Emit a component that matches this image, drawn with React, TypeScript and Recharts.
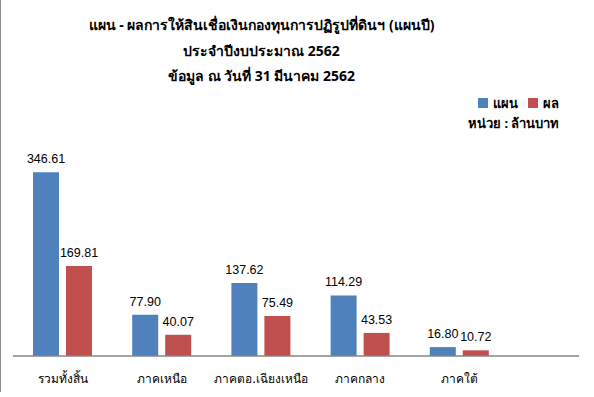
import React from "react";
import { BarChart, Bar, XAxis, YAxis, LabelList } from "recharts";

const categories = ["รวมทั้งสิ้น", "ภาคเหนือ", "ภาคตอ.เฉียงเหนือ", "ภาคกลาง", "ภาคใต้"];
const planValues = [346.61, 77.9, 137.62, 114.29, 16.8];
const actualValues = [169.81, 40.07, 75.49, 43.53, 10.72];
const seriesNames = ["แผน", "ผล"];
const seriesColors = ["#4F81BD", "#C0504D"];
const titleLines = [
  "แผน - ผลการให้สินเชื่อเงินกองทุนการปฏิรูปที่ดินฯ (แผนปี)",
  "ประจำปีงบประมาณ 2562",
  "ข้อมูล ณ วันที่ 31 มีนาคม 2562",
];
const unitText = "หน่วย : ล้านบาท";

const data = categories.map((c, i) => ({ name: c, plan: planValues[i], actual: actualValues[i] }));

const FONT = "'Noto Sans', 'Liberation Sans', sans-serif";
const NUMFONT = "'Liberation Sans', 'Noto Sans', sans-serif";

export default function App() {
  return (
    <div style={{ position: "relative", width: 594, height: 397, background: "#fff", fontFamily: FONT }}>
      <style>{`body{margin:0}`}</style>
      <div style={{ position: "absolute", left: 0, top: 0, width: 1, height: 392, background: "#8c8c8c" }} />
      <div style={{ position: "absolute", left: 0, top: 12, width: 523, textAlign: "center", fontWeight: "bold", fontSize: 14, lineHeight: "25.5px", color: "#000" }}>
        {titleLines.map((t, i) => (
          <div key={i} style={{ whiteSpace: "nowrap" }}>{t}</div>
        ))}
      </div>
      <div style={{ position: "absolute", left: 478, top: 94, fontSize: 13, fontWeight: "bold", color: "#000", display: "flex", alignItems: "center", lineHeight: "18px" }}>
        {seriesNames.map((n, i) => (
          <span key={n} style={{ display: "flex", alignItems: "center", marginRight: 10 }}>
            <span style={{ display: "inline-block", width: 10, height: 10, background: seriesColors[i], marginRight: 5 }} />
            {n}
          </span>
        ))}
      </div>
      <div style={{ position: "absolute", left: 468, top: 114, fontSize: 13, fontWeight: "bold", color: "#000", lineHeight: "18px" }}>{unitText}</div>
      <BarChart
        width={594}
        height={397}
        data={data}
        margin={{ top: 144, right: 15, bottom: 11, left: 13 }}
        barSize={26}
        barGap={7}
      >
        <XAxis
          dataKey="name"
          height={30}
          axisLine={{ stroke: "#868686", strokeWidth: 1.5 }}
          tickLine={false}
          padding={{ left: 0, right: 70 }}
          tick={{ fontSize: 12, fill: "#000", fontFamily: FONT, dy: 10 }}
          interval={0}
        />
        <YAxis hide domain={[0, 400]} />
        <Bar dataKey="plan" name={seriesNames[0]} fill={seriesColors[0]} isAnimationActive={false}>
          <LabelList dataKey="plan" position="top" offset={9} formatter={(v: number) => v.toFixed(2)} style={{ fontSize: 12.5, fill: "#000", fontFamily: NUMFONT }} />
        </Bar>
        <Bar dataKey="actual" name={seriesNames[1]} fill={seriesColors[1]} isAnimationActive={false}>
          <LabelList dataKey="actual" position="top" offset={9} formatter={(v: number) => v.toFixed(2)} style={{ fontSize: 12.5, fill: "#000", fontFamily: NUMFONT }} />
        </Bar>
      </BarChart>
    </div>
  );
}
